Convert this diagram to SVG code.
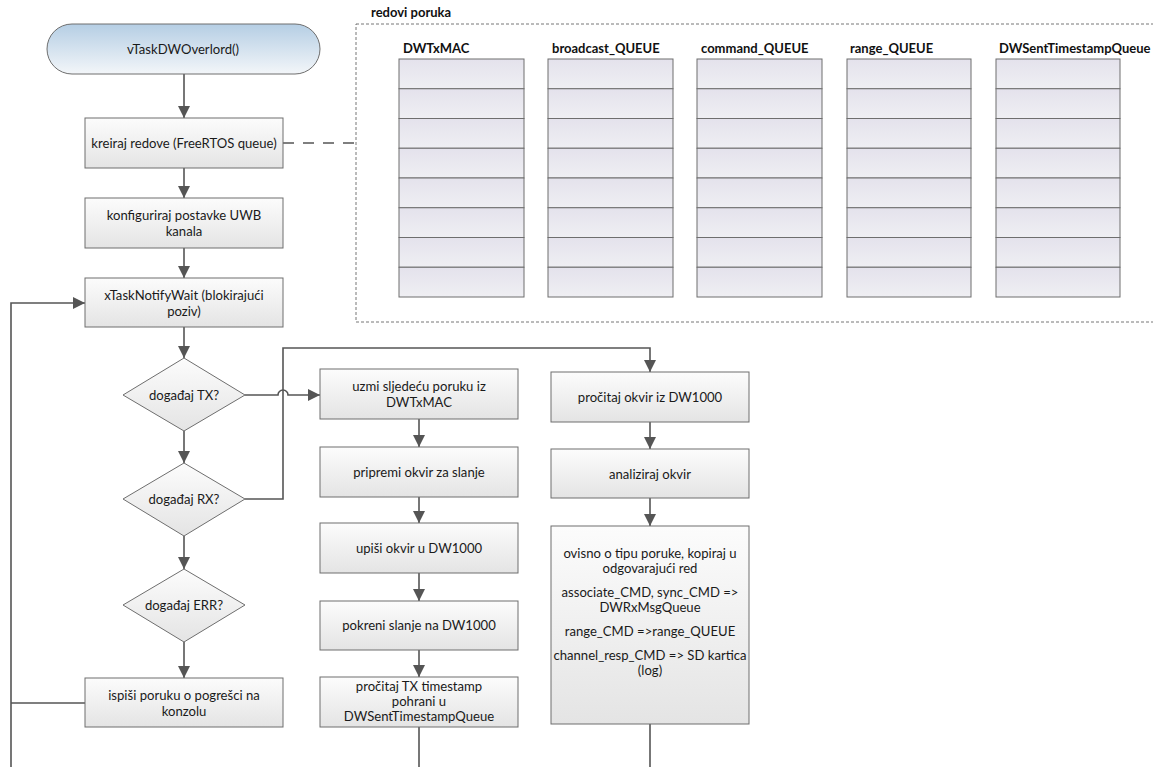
<svg xmlns="http://www.w3.org/2000/svg" width="1153" height="767" viewBox="0 0 1153 767">
<defs>
<linearGradient id="gBox" x1="0" y1="0" x2="0" y2="1"><stop offset="0" stop-color="#fcfcfc"/><stop offset="1" stop-color="#e4e4e4"/></linearGradient>
<linearGradient id="gStart" x1="0" y1="0" x2="0" y2="1"><stop offset="0" stop-color="#b5cee4"/><stop offset="1" stop-color="#f3f6f9"/></linearGradient>
<linearGradient id="gCell" x1="0" y1="0" x2="0" y2="1"><stop offset="0" stop-color="#e4e2ec"/><stop offset="1" stop-color="#efeff3"/></linearGradient>
<marker id="arr" markerUnits="userSpaceOnUse" markerWidth="12" markerHeight="12" viewBox="0 0 10 10" refX="10" refY="5" orient="auto"><path d="M0,0 L10,5 L0,10 z" fill="#555"/></marker>
</defs>
<style>
.box{fill:url(#gBox);stroke:#6e6e6e;stroke-width:1}
.t{font-family:Lato,"Liberation Sans",sans-serif;font-size:13.1px;fill:#1a1a1a;text-anchor:middle;dominant-baseline:central}
.b{font-family:Lato,"Liberation Sans",sans-serif;font-size:13px;font-weight:bold;fill:#111}
.c{fill:none;stroke:#555;stroke-width:1.6}
.cell{fill:url(#gCell);stroke:#6e6e6e;stroke-width:1}
</style>
<rect width="1153" height="767" fill="#fff"/>

<g id="queues">
<text class="b" x="371" y="17">redovi poruka</text>
<rect x="356" y="24" width="805" height="298" fill="none" stroke="#777" stroke-width="1" stroke-dasharray="3 2"/>
<g id="q1"><text class="b" x="403" y="53">DWTxMAC</text>
<rect class="cell" x="399" y="59" width="125" height="29.75"/><rect class="cell" x="399" y="88.75" width="125" height="29.75"/><rect class="cell" x="399" y="118.5" width="125" height="29.75"/><rect class="cell" x="399" y="148.25" width="125" height="29.75"/><rect class="cell" x="399" y="178" width="125" height="29.75"/><rect class="cell" x="399" y="207.75" width="125" height="29.75"/><rect class="cell" x="399" y="237.5" width="125" height="29.75"/><rect class="cell" x="399" y="267.25" width="125" height="29.75"/></g>
<g id="q2"><text class="b" x="552" y="53">broadcast_QUEUE</text>
<rect class="cell" x="548" y="59" width="125" height="29.75"/><rect class="cell" x="548" y="88.75" width="125" height="29.75"/><rect class="cell" x="548" y="118.5" width="125" height="29.75"/><rect class="cell" x="548" y="148.25" width="125" height="29.75"/><rect class="cell" x="548" y="178" width="125" height="29.75"/><rect class="cell" x="548" y="207.75" width="125" height="29.75"/><rect class="cell" x="548" y="237.5" width="125" height="29.75"/><rect class="cell" x="548" y="267.25" width="125" height="29.75"/></g>
<g id="q3"><text class="b" x="701" y="53">command_QUEUE</text>
<rect class="cell" x="697" y="59" width="125" height="29.75"/><rect class="cell" x="697" y="88.75" width="125" height="29.75"/><rect class="cell" x="697" y="118.5" width="125" height="29.75"/><rect class="cell" x="697" y="148.25" width="125" height="29.75"/><rect class="cell" x="697" y="178" width="125" height="29.75"/><rect class="cell" x="697" y="207.75" width="125" height="29.75"/><rect class="cell" x="697" y="237.5" width="125" height="29.75"/><rect class="cell" x="697" y="267.25" width="125" height="29.75"/></g>
<g id="q4"><text class="b" x="850" y="53">range_QUEUE</text>
<rect class="cell" x="847" y="59" width="124" height="29.75"/><rect class="cell" x="847" y="88.75" width="124" height="29.75"/><rect class="cell" x="847" y="118.5" width="124" height="29.75"/><rect class="cell" x="847" y="148.25" width="124" height="29.75"/><rect class="cell" x="847" y="178" width="124" height="29.75"/><rect class="cell" x="847" y="207.75" width="124" height="29.75"/><rect class="cell" x="847" y="237.5" width="124" height="29.75"/><rect class="cell" x="847" y="267.25" width="124" height="29.75"/></g>
<g id="q5"><text class="b" x="999" y="53">DWSentTimestampQueue</text>
<rect class="cell" x="996" y="59" width="124" height="29.75"/><rect class="cell" x="996" y="88.75" width="124" height="29.75"/><rect class="cell" x="996" y="118.5" width="124" height="29.75"/><rect class="cell" x="996" y="148.25" width="124" height="29.75"/><rect class="cell" x="996" y="178" width="124" height="29.75"/><rect class="cell" x="996" y="207.75" width="124" height="29.75"/><rect class="cell" x="996" y="237.5" width="124" height="29.75"/><rect class="cell" x="996" y="267.25" width="124" height="29.75"/></g>
</g>

<g id="connectors">
<path class="c" d="M184,74 V118" marker-end="url(#arr)"/>
<path class="c" d="M184,168 V198" marker-end="url(#arr)"/>
<path class="c" d="M184,248 V278" marker-end="url(#arr)"/>
<path class="c" d="M184,327 V358" marker-end="url(#arr)"/>
<path class="c" d="M184,431 V463" marker-end="url(#arr)"/>
<path class="c" d="M184,536 V569" marker-end="url(#arr)"/>
<path class="c" d="M184,642 V678" marker-end="url(#arr)"/>
<path class="c" d="M245,395 H278 A5,5 0 0 1 288,395 H320" marker-end="url(#arr)"/>
<path class="c" d="M245,499 H283 V348 H650 V372" marker-end="url(#arr)"/>
<path class="c" d="M11,767 V303 H85" marker-end="url(#arr)"/>
<path class="c" d="M85,703 H11"/>
<path class="c" d="M419,419 V447" marker-end="url(#arr)"/>
<path class="c" d="M419,497 V523" marker-end="url(#arr)"/>
<path class="c" d="M419,573 V601" marker-end="url(#arr)"/>
<path class="c" d="M419,650 V677" marker-end="url(#arr)"/>
<path class="c" d="M419,727 V767"/>
<path class="c" d="M650,422 V449" marker-end="url(#arr)"/>
<path class="c" d="M650,498 V526" marker-end="url(#arr)"/>
<path class="c" d="M650,724 V767"/>
<path class="c" d="M283,143 H356" stroke-dasharray="11 9"/>
</g>

<g id="start"><rect x="47" y="24" width="273" height="50" rx="25" fill="url(#gStart)" stroke="#6e6e6e"/><text class="t" x="183" y="49">vTaskDWOverlord()</text></g>
<g id="kreiraj"><rect class="box" x="85" y="118" width="198" height="50"/><text class="t" x="184" y="143">kreiraj redove (FreeRTOS queue)</text></g>
<g id="konfig"><rect class="box" x="85" y="198" width="198" height="50"/><text class="t" x="184" y="215">konfiguriraj postavke UWB</text><text class="t" x="184" y="231">kanala</text></g>
<g id="notify"><rect class="box" x="85" y="278" width="198" height="49"/><text class="t" x="184" y="295">xTaskNotifyWait (blokirajući</text><text class="t" x="184" y="311">poziv)</text></g>
<g id="tx"><polygon class="box" points="184,358 245,395 184,431 123,395"/><text class="t" x="184" y="395">događaj TX?</text></g>
<g id="rx"><polygon class="box" points="184,463 245,499 184,536 123,499"/><text class="t" x="184" y="499">događaj RX?</text></g>
<g id="err"><polygon class="box" points="184,569 245,605 184,642 123,605"/><text class="t" x="184" y="605">događaj ERR?</text></g>
<g id="ispisi"><rect class="box" x="85" y="678" width="198" height="49"/><text class="t" x="184" y="695">ispiši poruku o pogrešci na</text><text class="t" x="184" y="711">konzolu</text></g>

<g id="uzmi"><rect class="box" x="320" y="369" width="198" height="50"/><text class="t" x="419" y="386">uzmi sljedeću poruku iz</text><text class="t" x="419" y="402">DWTxMAC</text></g>
<g id="pripremi"><rect class="box" x="320" y="447" width="198" height="50"/><text class="t" x="419" y="472">pripremi okvir za slanje</text></g>
<g id="upisi"><rect class="box" x="320" y="523" width="198" height="50"/><text class="t" x="419" y="548">upiši okvir u DW1000</text></g>
<g id="pokreni"><rect class="box" x="320" y="601" width="198" height="49"/><text class="t" x="419" y="625">pokreni slanje na DW1000</text></g>
<g id="procitajtx"><rect class="box" x="320" y="677" width="198" height="50"/><text class="t" x="419" y="686">pročitaj TX timestamp</text><text class="t" x="419" y="701">pohrani u</text><text class="t" x="419" y="716">DWSentTimestampQueue</text></g>

<g id="procitaj"><rect class="box" x="551" y="372" width="198" height="50"/><text class="t" x="650" y="397">pročitaj okvir iz DW1000</text></g>
<g id="analiziraj"><rect class="box" x="551" y="449" width="198" height="49"/><text class="t" x="650" y="474">analiziraj okvir</text></g>
<g id="ovisno"><rect class="box" x="551" y="526" width="198" height="198"/>
<text class="t" x="650" y="553">ovisno o tipu poruke, kopiraj u</text>
<text class="t" x="650" y="568">odgovarajući red</text>
<text class="t" x="650" y="592">associate_CMD, sync_CMD =&gt;</text>
<text class="t" x="650" y="607">DWRxMsgQueue</text>
<text class="t" x="650" y="631">range_CMD =&gt;range_QUEUE</text>
<text class="t" x="650" y="655">channel_resp_CMD =&gt; SD kartica</text>
<text class="t" x="650" y="670">(log)</text>
</g>
</svg>
